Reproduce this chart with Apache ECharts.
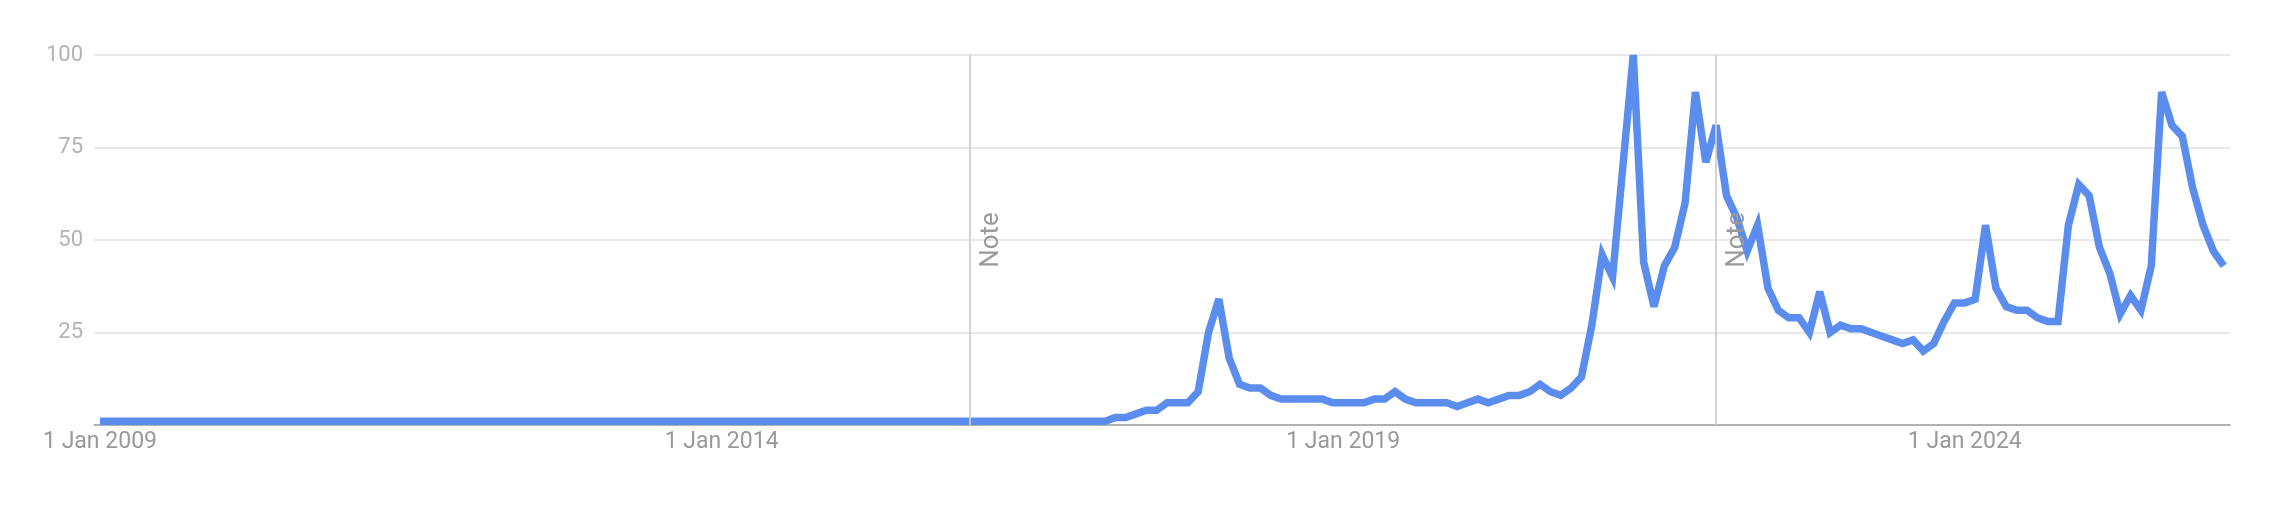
<!DOCTYPE html>
<html>
<head>
<meta charset="utf-8">
<script src="https://cdn.jsdelivr.net/npm/echarts@6/dist/echarts.min.js"></script>
<style>
html,body{margin:0;padding:0;background:#ffffff;}
#chart{width:2274px;height:510px;}
</style>
</head>
<body>
<div id="chart"></div>
<script>
// Monthly interest values, Jan 2009 .. Feb 2026
const values = [
  1,1,1,1,1,1,1,1,1,1,1,1,   // 2009
  1,1,1,1,1,1,1,1,1,1,1,1,   // 2010
  1,1,1,1,1,1,1,1,1,1,1,1,   // 2011
  1,1,1,1,1,1,1,1,1,1,1,1,   // 2012
  1,1,1,1,1,1,1,1,1,1,1,1,   // 2013
  1,1,1,1,1,1,1,1,1,1,1,1,   // 2014
  1,1,1,1,1,1,1,1,1,1,1,1,   // 2015
  1,1,1,1,1,1,1,1,1,1,1,1,   // 2016
  1,1,2,2,3,4,4,6,6,6,9,25,  // 2017
  34,18,11,10,10,8,7,7,7,7,7,6, // 2018
  6,6,6,7,7,9,7,6,6,6,6,5,   // 2019
  6,7,6,7,8,8,9,11,9,8,10,13, // 2020
  27,46,40,70,100,44,32,43,48,60,90,71, // 2021
  81,62,56,47,54,37,31,29,29,25,36,25, // 2022
  27,26,26,25,24,23,22,23,20,22,28,33, // 2023
  33,34,54,37,32,31,31,29,28,28,54,65, // 2024
  62,48,41,30,35,31,43,90,81,78,64,54, // 2025
  47,43                               // 2026
];
const startYear = 2009;
const months = values.map(function (v, i) {
  return (startYear + Math.floor(i / 12)) + '-' + String(i % 12 + 1).padStart(2, '0');
});
const tickMonths = ['2009-01', '2014-01', '2019-01', '2024-01'];
const tickLabels = ['1 Jan 2009', '1 Jan 2014', '1 Jan 2019', '1 Jan 2024'];
const noteMonths = ['2016-01', '2022-01'];
const noteLabel = 'Note';
const yTicks = [0, 25, 50, 75, 100];

const tickIdx = tickMonths.map(function (m) { return months.indexOf(m); });
const noteIdx = noteMonths.map(function (m) { return months.indexOf(m); });

const chart = echarts.init(document.getElementById('chart'), null, {renderer: 'canvas'});
chart.setOption({
  animation: false,
  backgroundColor: '#ffffff',
  textStyle: {fontFamily: 'Roboto'},
  grid: {left: 94, right: 44, top: 55, bottom: 85, containLabel: false},
  xAxis: {
    type: 'value',
    min: -0.58,
    max: values.length - 1 + 0.6,
    axisLine: {show: true, onZero: false, lineStyle: {color: '#9e9e9e', width: 1.5}},
    axisTick: {show: false},
    splitLine: {show: false},
    axisLabel: {
      customValues: tickIdx,
      formatter: function (v) { return tickLabels[tickIdx.indexOf(Math.round(v))] || ''; },
      color: '#999999',
      fontSize: 23,
      fontFamily: 'Roboto',
      margin: 6
    }
  },
  yAxis: {
    type: 'value',
    min: 0,
    max: 100,
    interval: 25,
    axisLine: {show: false},
    axisTick: {show: false},
    splitLine: {show: true, lineStyle: {color: '#e0e0e0', width: 1.5}},
    axisLabel: {
      formatter: function (v) { return v === yTicks[0] ? '' : String(v); },
      color: '#b3b3b3',
      fontSize: 22,
      fontFamily: 'Roboto',
      margin: 11
    }
  },
  series: [{
    type: 'line',
    data: values.map(function (v, i) { return [i, v]; }),
    showSymbol: false,
    symbol: 'none',
    silent: true,
    lineStyle: {color: '#5b8dee', width: 7.5, join: 'miter', miterLimit: 4, cap: 'butt'},
    emphasis: {disabled: true},
    markLine: {
      silent: true,
      symbol: ['none', 'none'],
      animation: false,
      lineStyle: {color: '#d0d0d0', width: 1.8, type: 'solid'},
      label: {
        show: true,
        formatter: noteLabel,
        position: 'insideMiddleBottom',
        color: '#9a9a9a',
        fontSize: 26,
        fontFamily: 'Roboto',
        distance: 8
      },
      data: noteIdx.map(function (i) { return {xAxis: i}; })
    }
  }]
});
</script>
</body>
</html>
